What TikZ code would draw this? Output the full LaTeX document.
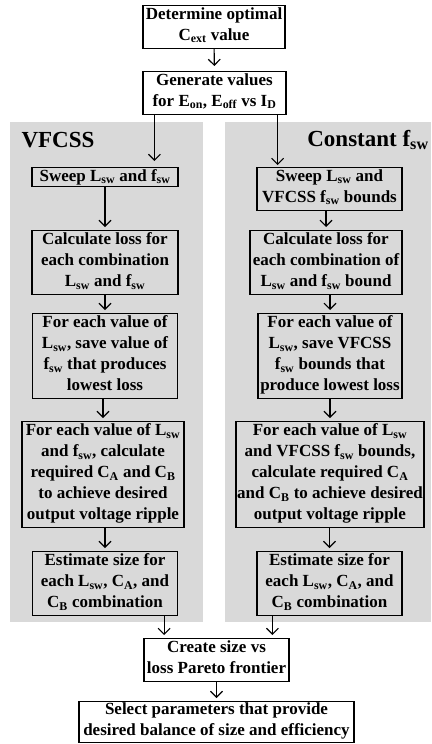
\documentclass[tikz,border=0pt]{standalone}
\usepackage{fontspec}
\setmainfont{Liberation Serif}
\usepackage{xcolor}
\usetikzlibrary{arrows.meta,positioning}

\newcommand{\lo}[1]{\textsubscript{#1}}

\begin{document}
\begin{tikzpicture}[
  x=1pt, y=1pt,
  node distance=22pt,
  stepbox/.style={draw, line width=1.1pt, align=center, inner xsep=1pt, inner ysep=2pt,
    font=\bfseries\fontsize{17}{21}\selectfont,
    execute at begin node=\strut, execute at end node=\strut},
  panel/.style={fill=black!15},
  title/.style={font=\bfseries\fontsize{23}{26}\selectfont},
  arrow/.style={-{Straight Barb[length=6pt,width=12pt]}, line width=1.1pt, shorten >=3pt}
]
\useasboundingbox (0,0) rectangle (431,-744);
% gray panels
\fill[panel] (10,-122) rectangle (203,-622);
\fill[panel] (225,-122) rectangle (431,-622);
\node[title] (vf) at (58,-140) {VFCSS};
\node[title] (cf) at (368,-140) {Constant f\lo{sw}};

\node[stepbox, minimum width=142pt, anchor=north] (opt) at (214,-5) {Determine optimal\\C\lo{ext} value};
\node[stepbox, minimum width=143pt, anchor=north] (gen) at (214.5,-71) {Generate values\\for E\lo{on}, E\lo{off} vs I\lo{D}};

% right column
\node[stepbox, minimum width=145pt, anchor=north] (rsweep) at (329.5,-167) {Sweep L\lo{sw} and\\VFCSS f\lo{sw} bounds};
\node[stepbox, minimum width=152pt, anchor=north] (rcalc) at (326,-230) {Calculate loss for\\each combination of\\L\lo{sw} and f\lo{sw} bound};
\node[stepbox, minimum width=144pt, anchor=north] (rfor) at (330,-313) {For each value of\\L\lo{sw}, save VFCSS\\f\lo{sw} bounds that\\produce lowest loss};
\node[stepbox, minimum width=188pt, anchor=north] (rbig) at (330,-421) {For each value of L\lo{sw}\\and VFCSS f\lo{sw} bounds,\\calculate required C\lo{A}\\and C\lo{B} to achieve desired\\output voltage ripple};
\node[stepbox, minimum width=145pt, anchor=north] (rest) at (329.5,-551) {Estimate size for\\each L\lo{sw}, C\lo{A}, and\\C\lo{B} combination};

% left column
\node[stepbox, minimum width=146pt, anchor=north, inner ysep=-1pt] (lsweep) at (105,-167) {Sweep L\lo{sw} and f\lo{sw}};
\node[stepbox, minimum width=146pt, anchor=north] (lcalc) at (lsweep.north |- rcalc.north) {Calculate loss for\\each combination\\L\lo{sw} and f\lo{sw}};
\node[stepbox, minimum width=145pt, anchor=north] (lfor) at (lsweep.north |- rfor.north) {For each value of\\L\lo{sw}, save value of\\f\lo{sw} that produces\\lowest loss};
\node[stepbox, minimum width=162pt, anchor=north, xshift=-2pt] (lbig) at (lsweep.north |- rbig.north) {For each value of L\lo{sw}\\and f\lo{sw}, calculate\\required C\lo{A} and C\lo{B}\\to achieve desired\\output voltage ripple};
\node[stepbox, minimum width=145pt, anchor=north] (lest) at (lsweep.north |- rest.north) {Estimate size for\\each L\lo{sw}, C\lo{A}, and\\C\lo{B} combination};

\node[stepbox, minimum width=145pt, anchor=north] (pareto) at (216.5,-638) {Create size vs\\loss Pareto frontier};
\node[stepbox, minimum width=275pt, anchor=north, inner ysep=1pt] (select) at (216.5,-701) {Select parameters that provide\\desired balance of size and efficiency};

\draw[arrow, shorten >=5pt] (opt) -- (gen);
\draw[arrow, shorten >=6pt] ([xshift=12pt]gen.south west) -- ([xshift=12pt]gen.south west |- lsweep.north);
\draw[arrow, shorten >=2pt] ([xshift=-9pt]gen.south east) -- ([xshift=-9pt]gen.south east |- rsweep.north);
\foreach \x/\y in {lsweep/lcalc,lcalc/lfor,lfor/lbig,lbig/lest,rsweep/rcalc,rcalc/rfor,rfor/rbig,rbig/rest}
  \draw[arrow] (\x.south -| \y.north) -- (\y.north);
\draw[arrow] ([xshift=-14pt]lest.south east) -- ([xshift=-14pt]lest.south east |- pareto.north);
\draw[arrow] ([xshift=16pt]rest.south west) -- ([xshift=16pt]rest.south west |- pareto.north);
\draw[arrow] (pareto) -- (select);
\end{tikzpicture}
\end{document}
